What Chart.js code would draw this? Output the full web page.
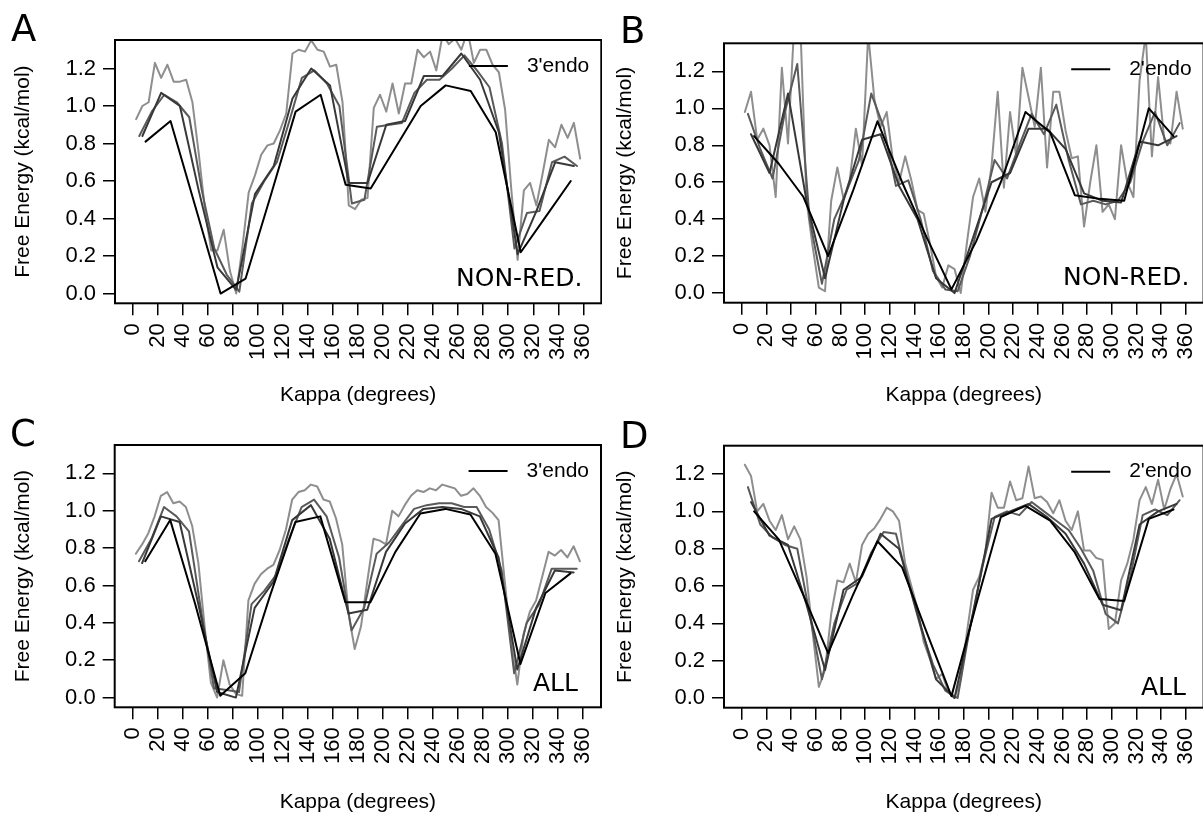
<!DOCTYPE html>
<html><head><meta charset="utf-8">
<script src="https://cdn.jsdelivr.net/npm/chart.js@4.4.1/dist/chart.umd.min.js"></script>
<style>
html,body{margin:0;padding:0;background:#fff;width:1203px;height:814px;overflow:hidden;position:relative;}
canvas{position:absolute;}
.letter{position:absolute;font-family:"DejaVu Sans";font-size:37px;line-height:1;color:#000;}
.tag{position:absolute;font-family:"DejaVu Sans";font-size:25px;line-height:1;color:#000;white-space:nowrap;}
</style></head><body>
<canvas id="cA" width="602" height="407" style="left:0;top:0"></canvas>
<canvas id="cB" width="602" height="407" style="left:602px;top:0"></canvas>
<canvas id="cC" width="602" height="407" style="left:0;top:407px"></canvas>
<canvas id="cD" width="602" height="407" style="left:602px;top:407px"></canvas>
<div class="letter" style="left:11px;top:10px">A</div>
<div class="letter" style="left:620px;top:12px">B</div>
<div class="letter" style="left:10px;top:415px">C</div>
<div class="letter" style="left:620px;top:417px">D</div>
<div class="tag" style="left:456px;top:265px">NON-RED.</div>
<div class="tag" style="left:1063px;top:264px">NON-RED.</div>
<div class="tag" style="left:533px;top:670px">ALL</div>
<div class="tag" style="left:1141px;top:674px">ALL</div>
<script>
// tick labels
const kappaTicks = [0,20,40,60,80,100,120,140,160,180,200,220,240,260,280,300,320,340,360];
const energyTicks = [0,0.2,0.4,0.6,0.8,1.0,1.2];
// bin centres (degrees)
const kappa20 = [10,30,50,70,90,110,130,150,170,190,210,230,250,270,290,310,330,350];
const kappa15 = [7.5,22.5,37.5,52.5,67.5,82.5,97.5,112.5,127.5,142.5,157.5,172.5,187.5,202.5,217.5,232.5,247.5,262.5,277.5,292.5,307.5,322.5,337.5,352.5];
const kappa10 = [5,15,25,35,45,55,65,75,85,95,105,115,125,135,145,155,165,175,185,195,205,215,225,235,245,255,265,275,285,295,305,315,325,335,345,355];
const kappa5 = [2.5,7.5,12.5,17.5,22.5,27.5,32.5,37.5,42.5,47.5,52.5,57.5,62.5,67.5,72.5,77.5,82.5,87.5,92.5,97.5,102.5,107.5,112.5,117.5,122.5,127.5,132.5,137.5,142.5,147.5,152.5,157.5,162.5,167.5,172.5,177.5,182.5,187.5,192.5,197.5,202.5,207.5,212.5,217.5,222.5,227.5,232.5,237.5,242.5,247.5,252.5,257.5,262.5,267.5,272.5,277.5,282.5,287.5,292.5,297.5,302.5,307.5,312.5,317.5,322.5,327.5,332.5,337.5,342.5,347.5,352.5,357.5];

// Panel A : 3'endo, non-redundant
const a20 = [0.81,0.92,0.46,0.00,0.08,0.52,0.97,1.06,0.58,0.56,0.78,1.00,1.11,1.08,0.86,0.22,0.41,0.60];
const a15 = [0.84,1.07,1.00,0.55,0.14,0.02,0.53,0.68,1.04,1.20,1.11,0.59,0.59,0.90,0.92,1.16,1.16,1.28,1.14,0.86,0.21,0.44,0.70,0.68];
const a10 = [0.84,0.97,1.06,1.02,0.94,0.55,0.24,0.10,0.01,0.48,0.60,0.70,0.92,1.15,1.19,1.12,1.00,0.48,0.50,0.89,0.90,0.91,1.07,1.14,1.14,1.20,1.27,1.19,1.10,0.80,0.24,0.43,0.44,0.70,0.73,0.68];
const a5 = [0.93,1.00,1.02,1.23,1.15,1.22,1.13,1.13,1.14,1.02,0.75,0.45,0.23,0.23,0.34,0.12,0.00,0.25,0.54,0.63,0.74,0.79,0.80,0.87,0.96,1.28,1.30,1.29,1.35,1.30,1.29,1.21,1.22,1.02,0.47,0.45,0.50,0.51,0.99,1.06,0.97,1.12,0.96,1.12,1.12,1.30,1.26,1.29,1.19,1.38,1.33,1.36,1.30,1.40,1.23,1.30,1.30,1.22,1.18,0.98,0.55,0.18,0.55,0.59,0.47,0.64,0.82,0.78,0.90,0.83,0.91,0.72];
// Panel B : 2'endo, non-redundant
const b20 = [0.85,0.70,0.52,0.20,0.55,0.93,0.60,0.30,0.02,0.28,0.60,0.98,0.87,0.53,0.51,0.50,1.00,0.85];
const b15 = [0.86,0.65,1.08,0.50,0.08,0.50,0.83,0.86,0.58,0.40,0.08,0.00,0.30,0.60,0.65,0.89,0.89,0.78,0.54,0.50,0.49,0.82,0.80,0.85];
const b10 = [0.97,0.78,0.62,0.98,1.24,0.40,0.05,0.40,0.55,0.72,1.08,0.90,0.58,0.61,0.40,0.12,0.02,0.01,0.20,0.45,0.72,0.62,0.80,0.97,0.86,1.02,0.72,0.48,0.50,0.48,0.50,0.60,0.82,0.98,0.80,0.92];
const b5 = [0.98,1.09,0.83,0.89,0.80,0.52,1.22,0.81,1.45,1.45,0.50,0.25,0.03,0.01,0.50,0.68,0.51,0.61,0.89,0.69,1.40,1.05,0.90,0.98,0.72,0.60,0.74,0.61,0.45,0.43,0.27,0.09,0.03,0.15,0.13,0.00,0.27,0.52,0.62,0.44,0.69,1.09,0.57,0.98,0.74,1.22,1.06,0.90,1.22,0.68,1.09,1.09,0.88,0.73,0.74,0.36,0.60,0.80,0.44,0.48,0.40,0.80,0.60,0.52,1.15,1.40,0.74,1.17,0.83,0.81,1.09,0.89];
// Panel C : 3'endo, all
const c20 = [0.73,0.95,0.50,0.01,0.13,0.55,0.94,0.97,0.51,0.51,0.78,0.985,1.01,0.98,0.77,0.18,0.56,0.665];
const c15 = [0.72,0.97,0.94,0.50,0.03,0.00,0.48,0.62,0.95,1.03,0.85,0.45,0.47,0.78,0.93,1.01,1.02,1.01,0.97,0.75,0.15,0.48,0.68,0.67];
const c10 = [0.73,0.85,1.02,0.97,0.89,0.45,0.05,0.04,0.03,0.50,0.57,0.66,0.85,1.02,1.06,0.97,0.75,0.36,0.48,0.77,0.83,0.92,1.01,1.03,1.04,1.04,1.02,1.02,0.90,0.68,0.13,0.40,0.50,0.69,0.69,0.69];
const c5 = [0.77,0.82,0.88,0.97,1.08,1.10,1.04,1.05,1.02,0.92,0.72,0.38,0.08,0.00,0.20,0.07,0.02,0.01,0.52,0.61,0.66,0.69,0.71,0.79,0.90,1.06,1.10,1.11,1.14,1.13,1.06,1.05,0.96,0.82,0.45,0.26,0.38,0.62,0.85,0.84,0.82,1.00,0.97,1.03,1.08,1.11,1.10,1.12,1.11,1.14,1.13,1.12,1.08,1.09,1.12,1.08,1.02,0.99,0.95,0.62,0.30,0.07,0.34,0.46,0.52,0.65,0.78,0.76,0.79,0.75,0.81,0.73];
// Panel D : 2'endo, all
const d20 = [1.00,0.85,0.55,0.24,0.55,0.84,0.70,0.35,0.01,0.50,0.97,1.03,0.95,0.78,0.53,0.52,0.96,1.01];
const d15 = [1.05,0.87,0.82,0.50,0.15,0.58,0.65,0.88,0.80,0.45,0.10,0.00,0.45,0.96,1.00,1.04,0.97,0.88,0.72,0.50,0.47,0.93,1.00,1.04];
const d10 = [1.13,0.93,0.86,0.82,0.80,0.45,0.10,0.40,0.58,0.62,0.78,0.89,0.88,0.62,0.38,0.18,0.04,0.00,0.38,0.70,0.97,1.00,0.98,1.05,1.00,0.95,0.90,0.80,0.68,0.45,0.40,0.65,0.98,1.01,0.98,1.06];
const d5 = [1.25,1.19,1.00,1.04,0.95,0.90,0.98,0.85,0.92,0.85,0.65,0.35,0.06,0.15,0.45,0.63,0.62,0.72,0.62,0.82,0.88,0.91,0.96,1.02,1.00,0.95,0.72,0.60,0.48,0.30,0.21,0.10,0.13,0.03,0.00,0.10,0.35,0.58,0.65,0.78,1.10,1.02,1.02,1.16,1.06,1.07,1.24,1.07,1.08,1.05,0.99,1.06,0.95,0.90,1.00,0.79,0.79,0.75,0.74,0.37,0.40,0.63,0.72,0.85,1.06,1.13,1.04,1.17,1.01,1.12,1.20,1.08];

const legendLabels = ["3'endo","2'endo","3'endo","2'endo"];
const seriesColors = ['#000000','#383838','#5a5a5a','#8e8e8e'];

const FONT = 'Liberation Sans, Arial, sans-serif';
const W = 602, H = 407;

const framePlugin = {
  id: 'frameLegend',
  afterDatasetsDraw(chart) {
    const {ctx, chartArea: a} = chart;
    ctx.save();
    ctx.strokeStyle = '#000';
    ctx.lineWidth = 2;
    ctx.strokeRect(a.left, a.top, a.right - a.left, a.bottom - a.top);
    // legend (first dataset only)
    const ds = chart.data.datasets[0];
    ctx.font = '21px ' + FONT;
    ctx.fillStyle = '#000';
    ctx.textAlign = 'right';
    ctx.textBaseline = 'middle';
    const tx = a.right - 12, ty = a.top + 26;
    ctx.fillText(ds.label, tx, ty);
    const tw = ctx.measureText(ds.label).width;
    ctx.beginPath();
    ctx.moveTo(tx - tw - 58, ty);
    ctx.lineTo(tx - tw - 19, ty);
    ctx.lineWidth = 2;
    ctx.strokeStyle = ds.borderColor;
    ctx.stroke();
    ctx.restore();
  }
};

function pairs(xs, ys) { return xs.map((x, i) => ({x: x, y: ys[i]})); }

function makeChart(id, label, s20, s15, s10, s5, area) {
  return new Chart(document.getElementById(id), {
    type: 'line',
    data: {
      datasets: [
        {label: label, data: pairs(kappa20, s20), borderColor: seriesColors[0]},
        {label: '15', data: pairs(kappa15, s15), borderColor: seriesColors[1]},
        {label: '10', data: pairs(kappa10, s10), borderColor: seriesColors[2]},
        {label: '5', data: pairs(kappa5, s5), borderColor: seriesColors[3]}
      ]
    },
    options: {
      responsive: false, animation: false, devicePixelRatio: 1,
      elements: {
        point: {radius: 0},
        line: {tension: 0, borderWidth: 2, borderJoinStyle: 'round', borderCapStyle: 'round', fill: false}
      },
      layout: {padding: {left: 0, top: area.t, right: W - area.r, bottom: 0}},
      plugins: {legend: {display: false}, tooltip: {enabled: false}},
      scales: {
        x: {
          type: 'linear', min: -14.4, max: 374.4,
          afterBuildTicks: s => { s.ticks = kappaTicks.map(v => ({value: v})); },
          afterFit: s => { s.height = H - area.b; s.paddingLeft = 0; s.paddingRight = 0; },
          ticks: {autoSkip: false, minRotation: 90, maxRotation: 90, padding: 8, color: '#000',
                  font: {family: FONT, size: 22}, callback: v => String(v)},
          grid: {drawOnChartArea: false, drawTicks: true, tickLength: 12, color: '#000', lineWidth: 1.5},
          border: {display: false},
          title: {display: true, text: 'Kappa (degrees)', color: '#000',
                  font: {family: FONT, size: 21, lineHeight: 1}, padding: {top: 0, bottom: 1}}
        },
        y: {
          type: 'linear', min: -0.052, max: 1.352,
          afterBuildTicks: s => { s.ticks = energyTicks.map(v => ({value: v})); },
          afterFit: s => { s.width = area.l; s.paddingTop = 0; s.paddingBottom = 0; },
          ticks: {padding: 7, color: '#000', font: {family: FONT, size: 22}, callback: v => v.toFixed(1)},
          grid: {drawOnChartArea: false, drawTicks: true, tickLength: 12, color: '#000', lineWidth: 1.5},
          border: {display: false},
          title: {display: true, text: 'Free Energy (kcal/mol)', color: '#000',
                  font: {family: FONT, size: 21, lineHeight: 1}, padding: {top: 13, bottom: 0}}
        }
      }
    },
    plugins: [framePlugin]
  });
}

makeChart('cA', legendLabels[0], a20, a15, a10, a5, {l: 115, t: 40, r: 601.3, b: 303.3});
makeChart('cB', legendLabels[1], b20, b15, b10, b5, {l: 122, t: 43.3, r: 601.6, b: 302.7});
makeChart('cC', legendLabels[2], c20, c15, c10, c5, {l: 114.7, t: 38, r: 601, b: 300.3});
makeChart('cD', legendLabels[3], d20, d15, d10, d5, {l: 122, t: 38.7, r: 601.6, b: 300.7});
</script>
</body></html>
